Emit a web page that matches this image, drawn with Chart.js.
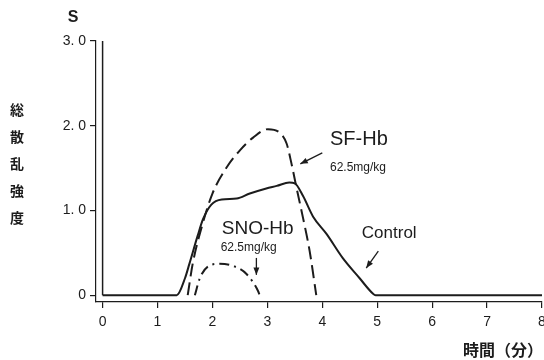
<!DOCTYPE html>
<html>
<head>
<meta charset="utf-8">
<script src="https://cdn.jsdelivr.net/npm/chart.js@4"></script>
<style>
  html, body { margin: 0; padding: 0; background: #fff; overflow: hidden; }
  #wrap { width: 552px; height: 360px; }
</style>
</head>
<body>
<div id="wrap"><canvas id="scatterChart"></canvas></div>
<script>
// time (min) and total scattering intensity (S)
const startTime = [0, 0];
const startS    = [3.0, 0];

const controlTime = [0, 1.35, 1.5, 1.58, 1.73, 1.83, 1.98, 2.17, 2.44, 2.68, 2.98, 3.17, 3.4, 3.5, 3.65, 3.83, 4.08, 4.37, 4.68, 4.92, 4.97, 8];
const controlS    = [0, 0, 0.2, 0.37, 0.7, 0.9, 1.07, 1.13, 1.14, 1.2, 1.26, 1.29, 1.33, 1.32, 1.17, 0.93, 0.72, 0.44, 0.2, 0.02, 0, 0];

const sfTime = [1.55, 1.64, 1.82, 2.0, 2.26, 2.5, 2.74, 3.01, 3.22, 3.35, 3.44, 3.53, 3.65, 3.77, 3.89];
const sfS    = [0, 0.37, 0.84, 1.2, 1.51, 1.71, 1.86, 1.96, 1.92, 1.79, 1.55, 1.27, 0.91, 0.52, 0];

const snoTime = [1.68, 1.77, 1.92, 2.13, 2.4, 2.62, 2.83, 2.86];
const snoS    = [0, 0.2, 0.34, 0.37, 0.34, 0.25, 0.05, 0];

const xTicks = [0, 1, 2, 3, 4, 5, 6, 7, 8];
const yTicks = [0, 1, 2, 3];

function pts(xs, ys) {
  return xs.map((x, i) => ({ x: x, y: ys[i] }));
}

const ink = '#1c1c1c';
const latin = '"Liberation Sans", Arial, sans-serif';
const cjk = '"Noto Sans CJK JP", sans-serif';

// labels and arrows placed in data units
const notes = [
  { text: 'SF-Hb', x: 4.14, y: 1.84, size: 20 },
  { text: '62.5mg/kg', x: 4.14, y: 1.5, size: 12 },
  { text: 'SNO-Hb', x: 2.17, y: 0.78, size: 19 },
  { text: '62.5mg/kg', x: 2.15, y: 0.56, size: 12 },
  { text: 'Control', x: 4.72, y: 0.73, size: 17 }
];
const arrows = [
  { from: [4.0, 1.68], to: [3.6, 1.55] },
  { from: [2.8, 0.44], to: [2.8, 0.24] },
  { from: [5.02, 0.52], to: [4.8, 0.32] }
];

const textPlugin = {
  id: 'texts',
  afterDraw(chart) {
    const ctx = chart.ctx;
    const xs = chart.scales.x, ys = chart.scales.y;
    ctx.save();
    ctx.fillStyle = ink;
    ctx.strokeStyle = ink;
    ctx.textBaseline = 'middle';
    ctx.textAlign = 'center';
    ctx.font = 'bold 16px ' + latin;
    ctx.fillText('S', 73, 18);
    ctx.font = 'bold 14px ' + cjk;
    ['総', '散', '乱', '強', '度'].forEach((c, i) => ctx.fillText(c, 17, 110 + i * 27));
    ctx.font = 'bold 16px ' + cjk;
    ctx.textAlign = 'right';
    ctx.fillText('時間（分）', 543, 350);

    ctx.textAlign = 'left';
    notes.forEach(n => {
      ctx.font = n.size + 'px ' + latin;
      ctx.fillText(n.text, xs.getPixelForValue(n.x), ys.getPixelForValue(n.y));
    });

    ctx.lineWidth = 1.3;
    arrows.forEach(a => {
      const x1 = xs.getPixelForValue(a.from[0]), y1 = ys.getPixelForValue(a.from[1]);
      const x2 = xs.getPixelForValue(a.to[0]), y2 = ys.getPixelForValue(a.to[1]);
      const ang = Math.atan2(y2 - y1, x2 - x1);
      ctx.beginPath();
      ctx.moveTo(x1, y1);
      ctx.lineTo(x2, y2);
      ctx.stroke();
      ctx.beginPath();
      ctx.moveTo(x2, y2);
      ctx.lineTo(x2 - 8 * Math.cos(ang - 0.38), y2 - 8 * Math.sin(ang - 0.38));
      ctx.lineTo(x2 - 8 * Math.cos(ang + 0.38), y2 - 8 * Math.sin(ang + 0.38));
      ctx.closePath();
      ctx.fill();
    });
    ctx.restore();
  }
};

new Chart(document.getElementById('scatterChart'), {
  type: 'line',
  data: {
    datasets: [
      { label: 'start', data: pts(startTime, startS), borderColor: ink, borderWidth: 1.5, tension: 0 },
      { label: 'Control', data: pts(controlTime, controlS), borderColor: ink, borderWidth: 2 },
      { label: 'SF-Hb', data: pts(sfTime, sfS), borderColor: ink, borderWidth: 2, borderDash: [13, 6] },
      { label: 'SNO-Hb', data: pts(snoTime, snoS), borderColor: ink, borderWidth: 2, borderDash: [10, 5, 2, 5] }
    ]
  },
  options: {
    responsive: true,
    maintainAspectRatio: false,
    animation: false,
    parsing: false,
    layout: { padding: { top: 41, right: 10, left: 0, bottom: 0 } },
    elements: { point: { radius: 0 }, line: { cubicInterpolationMode: 'monotone', fill: false } },
    plugins: { legend: { display: false }, tooltip: { enabled: false } },
    scales: {
      x: {
        type: 'linear',
        min: -0.12,
        max: 8,
        afterBuildTicks: s => { s.ticks = xTicks.map(v => ({ value: v })); },
        afterFit: s => { s.height = 58; },
        grid: { drawOnChartArea: false, tickLength: 6, color: ink, lineWidth: 1.2 },
        border: { color: ink, width: 1.2 },
        ticks: { color: ink, font: { family: latin, size: 14 }, padding: 6, maxRotation: 0 }
      },
      y: {
        type: 'linear',
        min: -0.08,
        max: 3.0,
        afterBuildTicks: s => { s.ticks = yTicks.map(v => ({ value: v })); },
        afterFit: s => { s.width = 96; },
        grid: { drawOnChartArea: false, tickLength: 6, color: ink, lineWidth: 1.2 },
        border: { color: ink, width: 1.2 },
        ticks: {
          color: ink,
          font: { family: latin, size: 14 },
          padding: 4,
          callback: v => v === 0 ? '0' : v.toFixed(1).replace('.', '. ')
        }
      }
    }
  },
  plugins: [textPlugin]
});
</script>
</body>
</html>
